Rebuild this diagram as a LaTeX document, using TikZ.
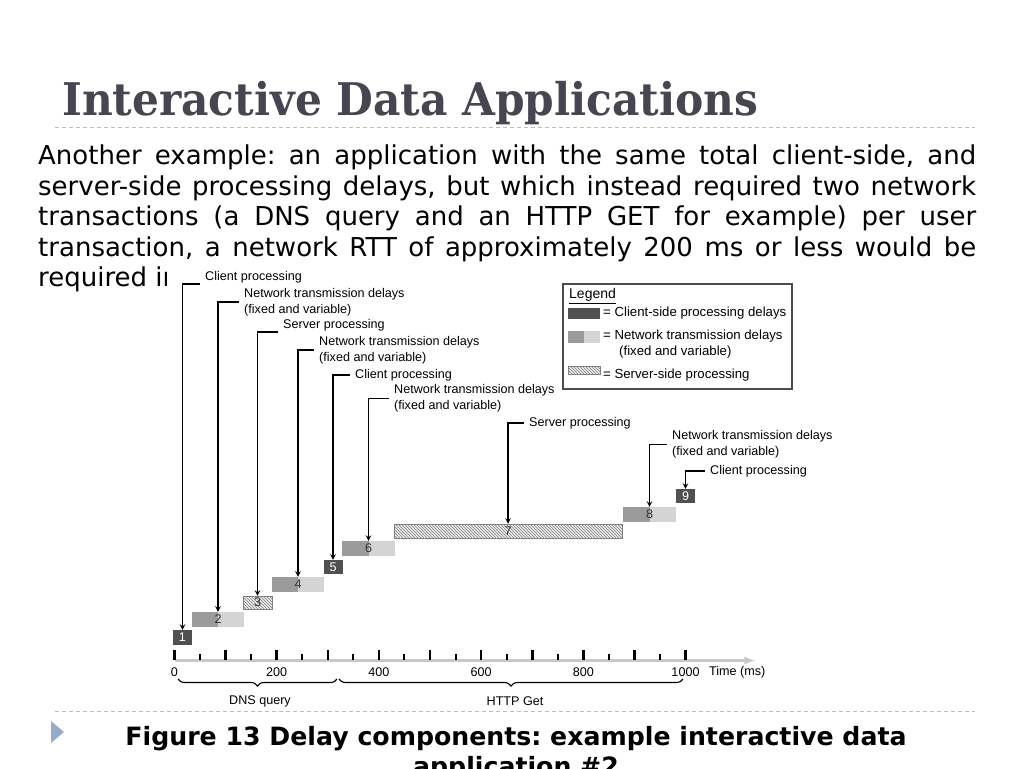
\documentclass[tikz,border=0pt]{standalone}
\usepackage{fontspec}
\usepackage{graphicx}
\setmainfont{DejaVu Sans}
\newfontfamily\titlefont{DejaVu Serif Condensed}
\newfontfamily\figfont{Liberation Sans}
\usetikzlibrary{arrows, patterns, decorations.pathreplacing, positioning}
\definecolor{titlegray}{RGB}{70,70,80}
\definecolor{rulecolor}{RGB}{172,192,212}
\definecolor{bulletblue}{RGB}{150,172,200}
\definecolor{clientgray}{RGB}{80,80,80}
\definecolor{netdark}{RGB}{155,155,155}
\definecolor{netlight}{RGB}{212,212,212}
\definecolor{hatchbg}{RGB}{236,236,236}
\definecolor{axisgray}{RGB}{200,200,200}
\definecolor{numgray}{RGB}{50,50,50}
\newcommand{\figtext}{\figfont\fontsize{12.6}{16}\selectfont}
\newcommand{\legtext}{\figfont\fontsize{13.2}{16}\selectfont}
\tikzstyle{slideline} = [rulecolor, line width=1pt, dash pattern=on 4pt off 3pt]
\tikzstyle{bodyline} = [anchor=base west, inner sep=0pt, font=\fontsize{26}{30.5}\selectfont]
\tikzstyle{captiontext} = [anchor=base, inner sep=0pt, font=\bfseries\fontsize{25.2}{30}\selectfont]
\tikzstyle{clientbar} = [rectangle, fill=clientgray, text=white, minimum width=19pt, minimum height=15pt, inner sep=0pt, font=\figtext]
\tikzstyle{netbar} = [rectangle, fill=netlight, text=numgray, minimum width=52pt, minimum height=15pt, inner sep=0pt, font=\figtext,
  path picture={\fill[netdark] (path picture bounding box.north west) rectangle (path picture bounding box.south);}]
\tikzstyle{serverbar} = [rectangle, draw=gray, line width=0.5pt, preaction={fill=hatchbg}, pattern=north west lines, pattern color=gray,
  text=numgray, minimum height=13pt, inner sep=0pt, font=\figtext]
\tikzstyle{figlabel} = [anchor=west, align=left, inner xsep=5pt, inner ysep=1pt, font=\figtext]
\tikzstyle{leglabel} = [figlabel, font=\legtext]
\tikzstyle{callout} = [line width=1.4pt, ->, >=stealth]
\tikzstyle{axisline} = [axisgray, line width=2.6pt, -latex]
\tikzstyle{curly} = [decorate, decoration={brace, mirror, amplitude=7pt}, line width=1.1pt]
\frenchspacing

\begin{document}
\begin{tikzpicture}[x=1pt, y=-1pt]
\useasboundingbox (0,0) rectangle (1024,768);
% slide title
\node (title) [anchor=base west, inner sep=0pt, text=titlegray] at (62,115) {\resizebox{696pt}{\height}{\titlefont\fontsize{45}{50}\selectfont\bfseries Interactive Data Applications}};
\draw [slideline] (55,127) -- (975,127);
% body text
\node (line1) [bodyline] at (38,164.5) {\makebox[938pt][s]{Another example: an application with the same total client-side, and}};
\node (line2) [bodyline] at (38,195) {\makebox[938pt][s]{server-side processing delays, but which instead required two network}};
\node (line3) [bodyline] at (38,225.5) {\makebox[938pt][s]{transactions (a DNS query and an HTTP GET for example) per user}};
\node (line4) [bodyline] at (38,256) {\makebox[938pt][s]{transaction, a network RTT of approximately 200 ms or less would be}};
\node (line5) [bodyline] at (38,286.5) {required in};
% figure
\fill [white] (167,271) rectangle (842,708);
\node (bar1) [clientbar] at (182.5,637.5) {1};
\node (bar2) [netbar] at (218,619.5) {2};
\node (bar3) [serverbar, minimum width=29pt] at (257.5,602.5) {3};
\node (bar4) [netbar] at (298,584.5) {4};
\node (bar5) [clientbar, minimum height=14pt] at (333,567) {5};
\node (bar6) [netbar, minimum width=53pt] at (368.5,548.5) {6};
\node (bar7) [serverbar, minimum width=228pt, minimum height=14pt] at (508,531) {7};
\node (bar8) [netbar, minimum width=53pt] at (649.5,514.5) {8};
\node (bar9) [clientbar, minimum height=14pt] at (685.5,496) {9};

\node (lab1) [figlabel] at (200,277) {Client processing};
\node (lab2) [figlabel] at (239,302) {Network transmission delays\\(fixed and variable)};
\node (lab3) [figlabel] at (278,325) {Server processing};
\node (lab4) [figlabel] at (314,350) {Network transmission delays\\(fixed and variable)};
\node (lab5) [figlabel] at (350,375) {Client processing};
\node (lab6) [figlabel] at (389,398.5) {Network transmission delays\\(fixed and variable)};
\node (lab7) [figlabel] at (524,423) {Server processing};
\node (lab8) [figlabel] at (667,444.5) {Network transmission delays\\(fixed and variable)};
\node (lab9) [figlabel] at (705,471) {Client processing};

\draw [callout] (lab1.south west) -| (bar1.north);
\draw [callout] (lab2.west) -| (bar2.north);
\draw [callout] (lab3.south west) -| (bar3.north);
\draw [callout] (lab4.west) -| (bar4.north);
\draw [callout] (lab5.west) -| (bar5.north);
\draw [callout] (lab6.west) -| (bar6.north);
\draw [callout] (lab7.west) -| (bar7.north);
\draw [callout] (lab8.west) -| (bar8.north);
\draw [callout] (lab9.west) -| (bar9.north);

% legend
\draw [gray!60!black, line width=1.2pt] (563,284) rectangle (792,389);
\node (legtitle) [leglabel, font=\figfont\fontsize{14}{16}\selectfont] at (564,296) {\underline{Legend}};
\node (swclient) [clientbar, minimum width=32pt, minimum height=11pt] at (584,313.5) {};
\node (swnet) [netbar, minimum width=32pt, minimum height=12pt] at (584,337) {};
\node (swserver) [serverbar, minimum width=32pt, minimum height=8pt] at (584,370) {};
\node (legclient) [leglabel] at (598,313) {= Client-side processing delays};
\node (legnet) [leglabel] at (598,344.5) {= Network transmission delays\\\hspace*{16pt}(fixed and variable)};
\node (legserver) [leglabel] at (598,375) {= Server-side processing};

% time axis
\coordinate (t0) at (174.5,660.5);
\coordinate (tend) at (755,660.5);
\draw [axisline] (t0) -- (tend);
\foreach \m in {0,100,...,1000}
  \draw [line width=2.6pt] ({174.5+0.511*\m},650) -- ({174.5+0.511*\m},660);
\foreach \m in {50,150,...,950}
  \draw [line width=2pt] ({174.5+0.511*\m},653.5) -- ({174.5+0.511*\m},660);
\foreach \m in {0,200,...,1000}
  \node (tick\m) [font=\figtext, inner sep=0pt] at ({174.5+0.511*\m},672) {\m};
\node (timelabel) [figlabel] at (704,672) {Time (ms)};

\coordinate (dnsl) at (178,679);
\coordinate (dnsr) at (337,679);
\coordinate (httpl) at (339,679);
\coordinate (httpr) at (683,679);
\draw [curly] (dnsl) -- (dnsr);
\draw [curly] (httpl) -- (httpr);
\node (dnslabel) [font=\figtext] at (260,701) {DNS query};
\node (httplabel) [font=\figtext] at (515,701) {HTTP Get};

% caption
\draw [slideline] (55,711) -- (975,711);
\fill [bulletblue] (51,721) -- (64,732) -- (51,743) -- cycle;
\node (caption1) [captiontext] at (516,745) {Figure 13 Delay components: example interactive data};
\node (caption2) [captiontext] at (516,775) {application \#2};
\end{tikzpicture}
\end{document}
